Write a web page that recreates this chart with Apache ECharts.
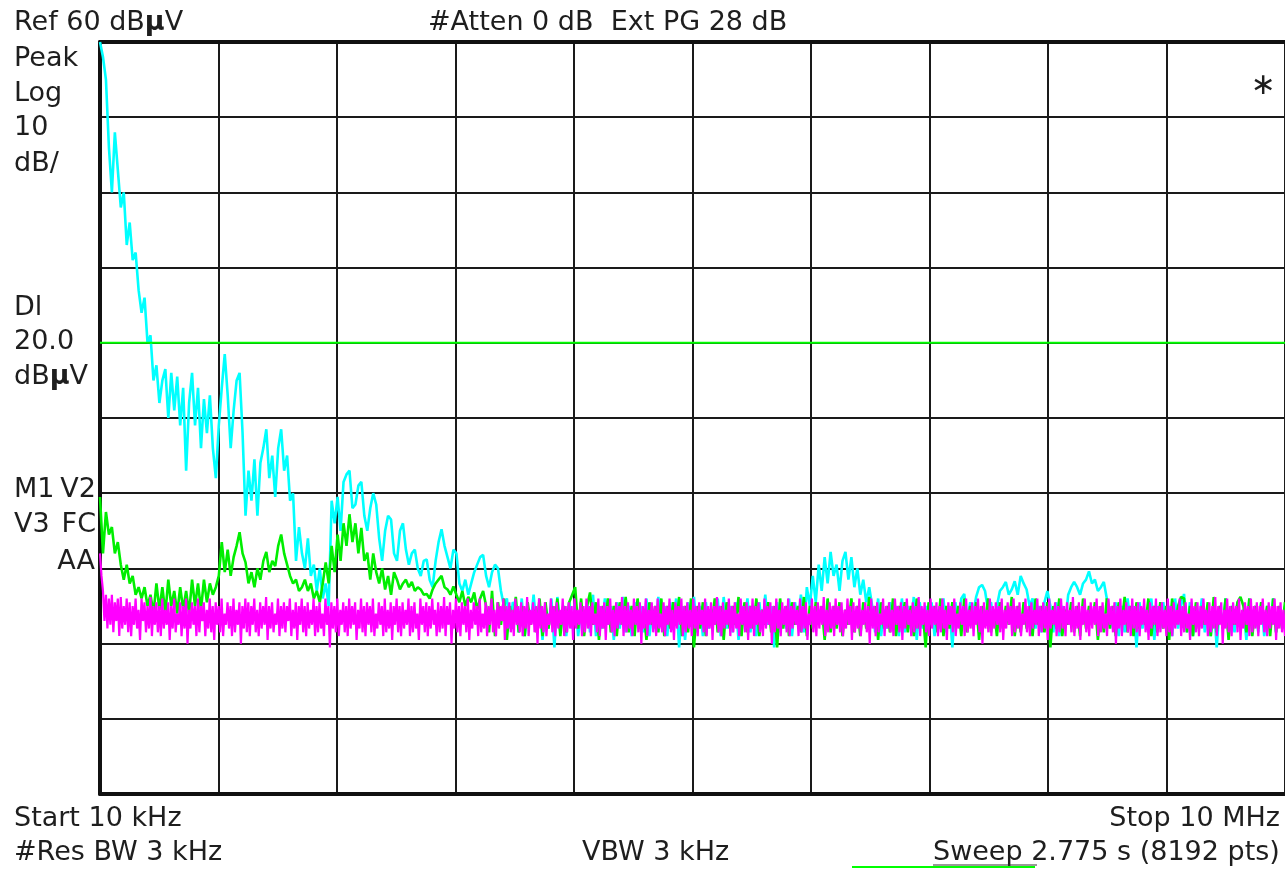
<!DOCTYPE html>
<html>
<head>
<meta charset="utf-8">
<script src="https://cdn.jsdelivr.net/npm/echarts/dist/echarts.min.js"></script>
<style>
html,body{margin:0;padding:0;background:#fff;}
#chart{width:1285px;height:869px;}
</style>
</head>
<body>
<div id="chart"></div>
<script>
// Sweep definition (kHz)
const START_KHZ = 10;
const STOP_KHZ = 10000;
const REF_DB = 60;
const BOTTOM_DB = -40;
const DB_PER_DIV = 10;
const DL_DB = 20;

// Trace values in dBuV, evenly spaced across the sweep
const cyanTrace = [
60,58,55,46,40,48,43,38,40,33,
36,31,32,27,24,26,20,21,15,17,
12,15,16.5,10,16,11,15.5,9,14,3,
12,16,9,14,6,12.5,8,13,6,2,
9,14,18.5,13,6,11,15,16,8,-3,
3,-1,4.5,-3,4,6,8.5,2,5,-0.5,
6,8.5,3,5,-1,0,-9,-4.5,-8,-10,
-6,-11,-9.5,-13,-10,-14,-12,-15,-1,-4,
-0.5,-5,1.5,2.5,3,-2,-1.5,1,1.5,-3,
-5,-2,0,-1.5,-6,-9,-5,-3,-3.5,-8,
-9,-5,-4,-7.5,-9.5,-8,-7.5,-10,-11,-9,
-8.8,-11.5,-12.5,-9,-6.5,-4.8,-7,-8.5,-10,-7.5,
-8,-12,-13,-11.5,-13.5,-12,-10.5,-9.5,-8.5,-8.2,
-11,-12.5,-10.5,-9.5,-10,-13,-15,-14,-18,-14.5,
-15,-18.5,-14,-19,-15.5,-17.5,-13.5,-18,-14.5,-19.5,-15,-18,-14,-20.5,-13.8,-18.5,-15,-19,-14.5,-18,
-14,-19,-15.5,-17.5,-14.5,-18.5,-13.5,-19,-15,-18,-14,-17.5,-15,-19.5,-14.5,-18,-13.8,-18.5,-15,-19,
-14.5,-17.5,-15,-18.5,-14,-19,-15.5,-18,-13.8,-17.5,-15,-19,-14.5,-18,-14,-20.5,-15,-19.5,-14.5,-17.5,
-13.8,-18.5,-15,-19,-14.5,-18,-15.5,-17.5,-14,-19,-13.8,-18,-15,-18.5,-14.5,-19.5,-15,-17.5,-14,-18.5,
-15,-19,-14.5,-18,-13.5,-17.5,-15,-20.5,-14.5,-18.5,-15.5,-18,-14,-19,-14.5,-17.5,-13.5,-18.5,-12.5,-15,
-11,-14.5,-9.5,-13,-8.5,-12,-7.8,-11,-9.5,-13,-9,-7.8,-11.5,-8.5,-12.5,-10,-13.5,-11.5,-14.5,-12.5,
-15,-18.5,-14,-19,-15.5,-18,-14.5,-17.5,-15,-19,-14,-18.5,-15,-18,-13.8,-19.5,-14.5,-18,-15,-17.5,
-14.5,-19,-15.5,-18,-14,-18.5,-15,-20.5,-14.5,-17.5,-14,-13.4,-17,-14.5,-16,-13.8,-12.5,-12.2,-13,-15.5,
-14.5,-17.5,-15,-13,-12.5,-11.8,-13.5,-12.8,-11.7,-13.5,-11,-12,-12.8,-15,-14,-18,-15,-18.5,-14.5,-13,
-15,-18.5,-14.5,-19,-15,-17.5,-13.5,-12.5,-11.8,-12.5,-13.5,-12,-11.5,-10.4,-12,-11.5,-13,-12.5,-11.8,-14,
-15.5,-18,-14.5,-19,-15,-18.5,-14,-17.5,-15,-20.5,-14.5,-18,-15.5,-18.5,-14,-19.5,-15,-18,-14.5,-17.5,
-15,-19,-14,-18,-15,-13.4,-18.5,-14.5,-19,-15,-17.5,-14,-18.5,-15.5,-19,-14.5,-20.5,-15,-17.5,-14,
-19,-15,-18.5,-14.5,-18,-15.5,-19.5,-14,-17.5,-15,-18.5,-14.5,-19,-15,-18,-14,-18.5,-15.5,-17.5,-15
];

const greenTrace = [
-0.5,-8,-2.5,-5.5,-4.5,-8,-6.5,-9.5,-11.5,-9.5,
-12,-11,-13.5,-12.5,-14,-12.5,-15,-13.5,-16,-12,
-15.5,-12.5,-16,-11.5,-15,-13,-16,-12.5,-15.5,-13,
-16,-11.5,-15,-12,-15.5,-11.5,-14.5,-12,-13.5,-12.5,
-11,-6.5,-10.5,-7.5,-11,-8.5,-7,-5.2,-8,-9.2,
-12,-10.5,-12.5,-10,-11.5,-9,-7.8,-10.5,-9,-9.7,
-7,-5.5,-8,-9.5,-11,-12,-11.5,-13,-12.5,-11.5,
-13,-12,-14,-13,-14.5,-12,-9.2,-12,-7,-10.5,
-5.5,-9,-4,-7,-2.8,-6.5,-4,-8,-4.6,-9,
-7.9,-11.5,-8,-10.5,-12,-10,-12.8,-11,-13.5,-10.5,
-11.5,-12.8,-12,-11.5,-12.5,-11.8,-13,-12.5,-12.8,-13.5,
-13.4,-14,-12.8,-12,-11.5,-11,-12.5,-12.8,-13.5,-12.4,
-13.5,-14.5,-13,-15,-13.8,-14.5,-13.2,-15.5,-14,-13,
-15,-18.5,-13,-19,-14.5,-17.5,-14,-19.5,-15,-18,-13.8,-18.5,-15,-19,-14.5,-17.5,-15.5,-18.5,-14,-19,
-14.5,-18,-15,-17.5,-14,-19,-15,-18.5,-14.5,-13.5,-12.5,-18,-14,-19,-15,-13.2,-17.5,-14.5,-19.5,-15,
-18,-14,-18.5,-15,-19,-14.5,-17.5,-13.8,-18.5,-15,-19,-14,-18,-15.5,-19.5,-14.5,-17.5,-15,-18.5,-14,
-19,-15,-18,-14.5,-17.5,-13.8,-19,-15,-18.5,-14,-20.5,-15,-18,-14.5,-19,-15.5,-17.5,-14,-18.5,-15,
-19.5,-14.5,-18,-15,-17.5,-13.8,-19,-14.5,-18.5,-15,-18,-14,-19,-15.5,-17.5,-14.5,-18.5,-15,-20.5,-14,
-18,-15,-19,-14.5,-17.5,-15,-18.5,-13.8,-19,-15,-18,-14.5,-17.5,-15,-19.5,-14,-18.5,-15,-18,-14.5,
-19,-15.5,-17.5,-14,-18.5,-15,-19,-14.5,-18,-13.8,-17.5,-15,-19.5,-14.5,-18,-15,-18.5,-14,-19,-15,
-17.5,-14.5,-18.5,-15,-19,-14,-18,-15.5,-20.5,-14.5,-17.5,-15,-18.5,-14,-19,-15,-18,-14.5,-17.5,-15,
-19,-14,-18.5,-15,-18,-14.5,-19.5,-15,-17.5,-14,-18.5,-15.5,-19,-14.5,-18,-15,-17.5,-13.8,-19,-15,
-18.5,-14.5,-18,-15,-19,-14,-17.5,-15,-18.5,-14.5,-20.5,-15,-18,-14,-19,-15.5,-17.5,-14.5,-18.5,-15,
-19,-14,-18,-15,-17.5,-14.5,-19.5,-15,-18.5,-14,-18,-15,-19,-14.5,-17.5,-13.8,-18.5,-15,-19,-14.5,
-18,-15.5,-17.5,-14,-19,-15,-18.5,-14.5,-18,-15,-19.5,-14,-17.5,-15,-13.8,-14,-18.5,-15,-19,-14.5,
-18,-15,-17.5,-14.5,-19,-13.8,-18.5,-15,-18,-14,-19.5,-15,-17.5,-14.5,-13.8,-15,-18.5,-14,-19,-15,
-18,-14.5,-17.5,-15,-19,-14,-18.5,-15,-18,-14.5
];

const magentaTrace = [
-8,-11,-13,-17,-13.5,-18,-14,-17.5,-13.5,-18.5,-14.5,-17,-14,-19,-13.8,-18,-15,-17.5,-14,-18.5,
-14.5,-19,-15,-17.5,-14,-18,-15.5,-19.5,-14,-17,-14.5,-18.5,-15,-18,-13.8,-19,-15,-17.5,-14.5,-18.5,
-15,-19,-14,-18,-15.5,-17.5,-14.5,-19.5,-15,-18,-14,-18.5,-16,-17.5,-14.5,-19,-15,-18,-14,-20,
-15.5,-18,-14.5,-17.5,-15,-19,-14,-18.5,-15,-17,-14.5,-19,-15.5,-18,-14,-18.5,-15,-19.5,-14.5,-17.5,
-15,-18.5,-14,-19,-16,-17.5,-14.5,-18,-15,-19,-14,-18.5,-15.5,-17.5,-14.5,-20,-15,-18,-14,-18.5,
-14.5,-19,-15,-17.5,-14,-18.5,-15.5,-19,-14.5,-18,-15,-17.5,-13.8,-19.5,-15,-18,-14.5,-18.5,-16,-17.5,
-14,-19,-15,-18,-14.5,-18.5,-15,-17,-14,-19,-15.5,-18,-14.5,-19.5,-15,-17.5,-14,-18.5,-15,-19,
-14.5,-18,-15.5,-17.5,-14,-19,-15,-18.5,-14.5,-18,-16,-19,-14,-17.5,-15,-20.5,-14.5,-18,-15,-18.5,
-14,-19,-15.5,-17.5,-14.5,-18.5,-15,-19,-14,-18,-15,-17.5,-14.5,-19.5,-15.5,-18,-14,-18.5,-15,-19,
-14.5,-17.5,-15,-18.5,-14,-19,-16,-18,-14.5,-17.5,-15,-19,-14,-18.5,-15.5,-18,-14.5,-19.5,-15,-17.5,
-14,-18.5,-15,-19,-14.5,-18,-15.5,-17.5,-14,-19,-15,-18.5,-14.5,-18,-16,-19.5,-14,-17.5,-15,-18.5,
-14.5,-19,-15,-18,-14,-17.5,-15.5,-19,-14.5,-18.5,-15,-18,-13.8,-19,-15,-17.5,-14.5,-20,-15.5,-18,
-14,-18.5,-15,-19,-14.5,-17.5,-15,-18.5,-14,-19.5,-15.5,-18,-14.5,-17.5,-15,-19,-14,-18.5,-16,-18,
-14.5,-19,-15,-17.5,-14,-18.5,-15.5,-19,-14.5,-18,-15,-17,-14,-19.5,-15,-18,-14.5,-18.5,-15.5,-19,
-14,-17.5,-15,-18.5,-14.5,-19,-15,-18,-13.8,-19,-15.5,-17.5,-14.5,-18.5,-15,-20,-14,-18,-15,-18.5,
-14.5,-19,-16,-17.5,-14,-18.5,-15,-19,-14.5,-18,-15.5,-17.5,-14,-19,-15,-18.5,-14.5,-18,-15,-19.5,
-14,-18,-15.5,-17.5,-14.5,-19,-15,-18.5,-14,-18,-15,-19,-14.5,-17.5,-16,-18.5,-14,-19,-15,-18,
-14.5,-19.5,-15,-17.5,-14,-18.5,-15.5,-19,-14.5,-18,-15,-17.5,-13.8,-19,-15,-18.5,-14.5,-18,-15.5,-19,
-14,-17.5,-15,-18.5,-14.5,-20,-15,-18,-14,-19,-15.5,-17.5,-14.5,-18.5,-15,-19,-14,-18,-16,-18.5,
-14.5,-19,-15,-17.5,-14,-18.5,-15.5,-19.5,-14.5,-18,-15,-17.5,-14,-19,-15,-18.5,-14.5,-18,-15.5,-19,
-14,-18,-15,-19,-14.5,-17.5,-15.5,-18.5,-14,-19,-15,-18,-14.5,-19.5,-15,-17.5,-13.8,-18.5,-15,-19,
-14.5,-18,-15.5,-17.5,-14,-19,-15,-18.5,-14.5,-18,-16,-19,-14,-17.5,-15,-18.5,-14.5,-19.5,-15,-18,
-14,-19,-15,-17.5,-14.5,-18.5,-15.5,-19,-14,-18,-15,-17.5,-14.5,-20,-15,-18.5,-14,-18,-15.5,-19,
-14.5,-17.5,-15,-18.5,-14,-19,-15,-18,-14.5,-17.5,-15.5,-19,-14,-18.5,-15,-18,-14.5,-19.5,-16,-17.5,
-14,-18.5,-15,-19,-14.5,-18,-15,-17.5,-13.8,-19,-15.5,-18.5,-14.5,-18,-15,-19,-14,-17.5,-15,-18.5,
-14.5,-19,-15.5,-18,-14,-17.5,-15,-19.5,-14.5,-18.5,-15,-18,-14,-19,-15.5,-17.5,-14.5,-18.5,-15,-20,
-14,-18,-15,-19,-14.5,-18.5,-16,-17.5,-14,-19,-15,-18,-14.5,-18.5,-15.5,-19,-14,-17.5,-15,-18.5,
-14.5,-19.5,-15,-18,-14,-17.5,-15.5,-19,-14.5,-18.5,-15,-18,-13.8,-19,-15,-17.5,-14.5,-18.5,-15.5,-19,
-14,-18,-15,-17.5,-14.5,-19,-15,-18.5,-14,-18,-15.5,-19.5,-14.5,-17.5,-15,-18.5,-14,-19,-16,-18,
-14.5,-17.5,-15,-19,-14,-18.5,-15.5,-18,-14.5,-19,-15,-17.5,-14,-18.5,-15,-20,-14.5,-18,-15.5,-18.5,
-14,-19,-15,-18,-14.5,-17.5,-15,-18.5,-14,-19.5,-15.5,-18,-14.5,-17.5,-15,-19,-14,-18.5,-15,-18,
-14.5,-19,-16,-17.5,-14,-18.5,-15,-19,-14.5,-18,-15.5,-17.5,-14,-19,-15,-18.5,-14.5,-18,-15,-19.5,
-14,-18,-15.5,-17.5,-14.5,-19,-15,-18.5,-14,-18,-15,-19,-14.5,-17.5,-15.5,-18.5,-13.8,-19,-15,-18,
-14.5,-19.5,-15,-17.5,-14,-18.5,-15.5,-19,-14.5,-18,-15,-17.5,-14,-19,-15,-18.5,-14.5,-18,-16,-19,
-14,-17.5,-15,-18.5,-14.5,-20,-15,-18,-14,-19,-15.5,-17.5,-14.5,-18.5,-15,-19,-14,-18,-15,-18.5,
-14.5,-19,-15,-17.5,-14,-18.5,-15.5,-19.5,-14.5,-18,-15,-17.5,-14,-19,-15,-18.5,-14.5,-18,-15.5,-19,
-14,-18.5,-15,-19,-14.5,-18,-15.5,-17.5,-14,-19,-15,-18.5,-14.5,-18,-16,-19.5,-14,-17.5,-15,-18.5,
-14.5,-19,-15,-18,-14,-17.5,-15.5,-19,-14.5,-18.5,-15,-18,-13.8,-19,-15,-17.5,-14.5,-20,-15.5,-18,
-14,-18.5,-15,-19,-14.5,-17.5,-15,-18.5,-14,-19.5,-15.5,-18,-14.5,-17.5,-15,-19,-14,-18.5,-15,-18,
-14.5,-19,-15,-17.5,-14,-18.5,-15.5,-19,-14.5,-18,-15,-17.5,-14,-19.5,-15,-18,-14.5,-18.5,-15.5,-19
];

function toPairs(arr) {
  const n = arr.length;
  const step = (STOP_KHZ - START_KHZ) / (n - 1);
  return arr.map((v, i) => [START_KHZ + i * step, v]);
}

const FONT = 'DejaVu Sans';
const TXT = '#1e1e1e';
function txt(text, x, y, align, extra) {
  return {
    type: 'text', silent: true, z: 100,
    style: Object.assign({
      text: text, x: x, y: y,
      fill: TXT, fontSize: 27, fontFamily: FONT,
      textAlign: align || 'left', textVerticalAlign: 'middle',
      rich: { b: { fontWeight: 'bold', fontSize: 27, fontFamily: FONT, fill: TXT } }
    }, extra || {})
  };
}

const chart = echarts.init(document.getElementById('chart'), null, { renderer: 'canvas' });
const gridColor = '#1a1a1a';
chart.setOption({
  animation: false,
  backgroundColor: '#ffffff',
  grid: { left: 100, top: 42, width: 1190, height: 752, containLabel: false },
  xAxis: [{
    type: 'value', min: START_KHZ, max: STOP_KHZ, interval: 999, position: 'bottom',
    axisLine: { show: true, onZero: false, lineStyle: { color: '#111', width: 4 } },
    axisTick: { show: false }, axisLabel: { show: false },
    splitLine: { show: true, lineStyle: { color: gridColor, width: 2 } }
  }, {
    type: 'value', min: START_KHZ, max: STOP_KHZ, interval: 999, position: 'top',
    axisLine: { show: true, onZero: false, lineStyle: { color: '#111', width: 4 } },
    axisTick: { show: false }, axisLabel: { show: false }, splitLine: { show: false }
  }],
  yAxis: {
    type: 'value', min: BOTTOM_DB, max: REF_DB, interval: DB_PER_DIV,
    axisLine: { show: true, onZero: false, lineStyle: { color: '#111', width: 4 } },
    axisTick: { show: false }, axisLabel: { show: false },
    splitLine: { show: true, lineStyle: { color: gridColor, width: 2 } }
  },
  series: [
    { name: 'Trace 1', type: 'line', xAxisIndex: 0, data: toPairs(cyanTrace), showSymbol: false, symbol: 'none',
      lineStyle: { color: '#00ffff', width: 2.6 }, z: 3 },
    { name: 'Display Line', type: 'line', xAxisIndex: 0, data: [[START_KHZ, DL_DB], [STOP_KHZ, DL_DB]], showSymbol: false, symbol: 'none',
      lineStyle: { color: '#00ff00', width: 2 }, z: 4 },
    { name: 'Trace 2', type: 'line', xAxisIndex: 0, data: toPairs(greenTrace), showSymbol: false, symbol: 'none',
      lineStyle: { color: '#00ee00', width: 2.6 }, z: 5 },
    { name: 'Trace 3', type: 'line', xAxisIndex: 0, data: toPairs(magentaTrace), showSymbol: false, symbol: 'none',
      lineStyle: { color: '#ff00ff', width: 2.2 }, z: 6 }
  ],
  graphic: [
    txt('Ref 60 dB{b|μ}V', 14, 23),
    txt('#Atten 0 dB  Ext PG 28 dB', 428, 23),
    txt('Peak', 14, 59),
    txt('Log', 14, 94),
    txt('10', 14, 128),
    txt('dB/', 14, 164),
    txt('Dl', 14, 308),
    txt('20.0', 14, 342),
    txt('dB{b|μ}V', 14, 377),
    txt('M1', 14, 490),
    txt('V2', 96, 490, 'right'),
    txt('V3', 14, 525),
    txt('FC', 96, 525, 'right'),
    txt('AA', 95, 562, 'right'),
    txt('∗', 1263, 86, 'center', { fontSize: 30 }),
    txt('Start 10 kHz', 14, 819),
    txt('#Res BW 3 kHz', 14, 853),
    txt('Stop 10 MHz', 1280, 819, 'right'),
    txt('VBW 3 kHz', 582, 853),
    txt('Sweep 2.775 s (8192 pts)', 933, 853),
    { type: 'line', silent: true, z: 100, shape: { x1: 852, y1: 867, x2: 1035, y2: 867 }, style: { stroke: '#00ff00', lineWidth: 2 } },
    { type: 'line', silent: true, z: 100, shape: { x1: 933, y1: 865, x2: 1037, y2: 865 }, style: { stroke: '#333', lineWidth: 1 } }
  ]
});
</script>
</body>
</html>
